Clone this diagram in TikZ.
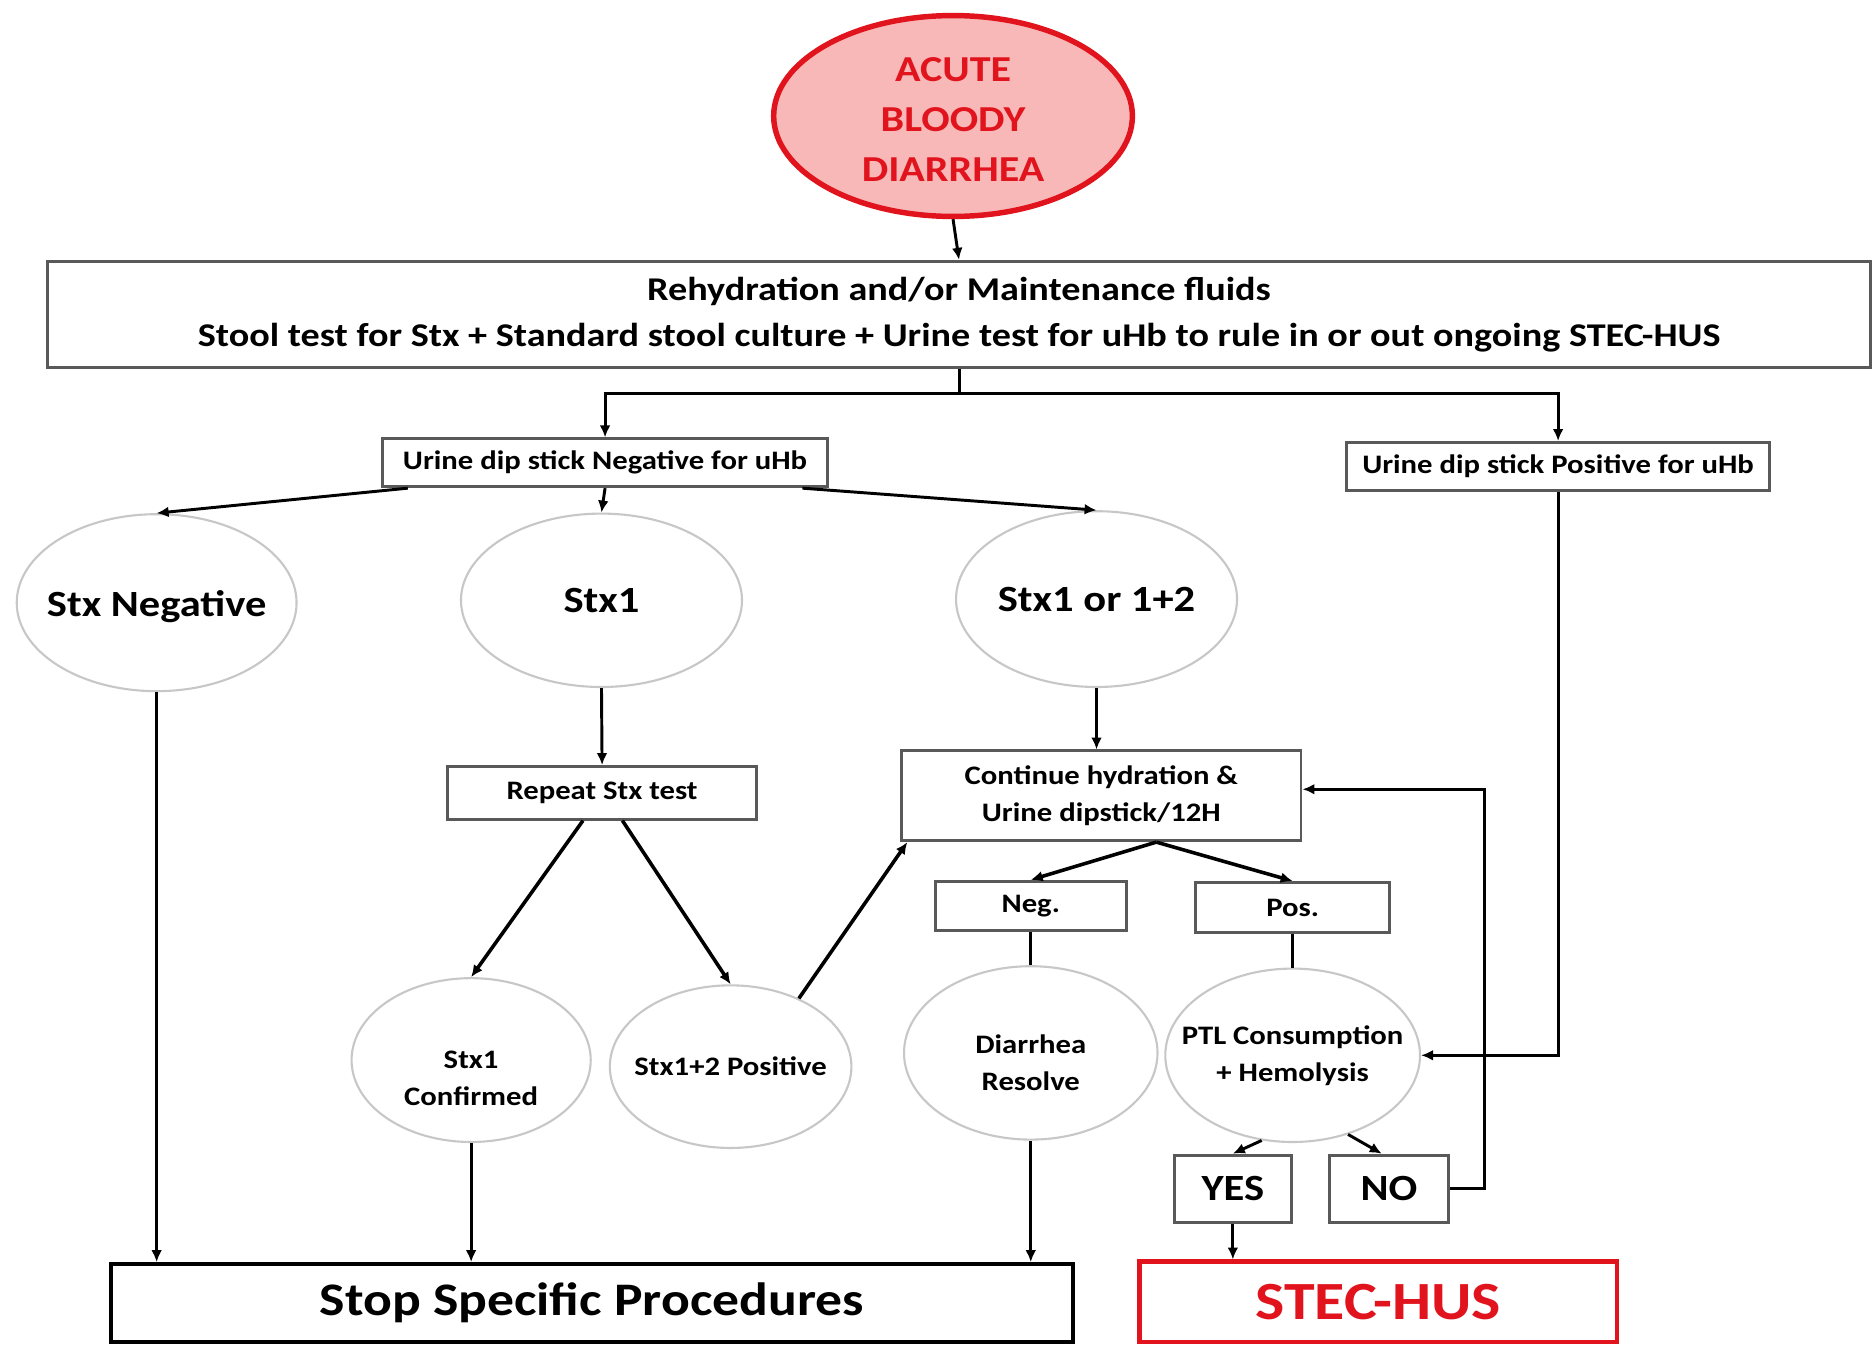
\documentclass[tikz,border=0pt]{standalone}
\usepackage{fontspec}
\setmainfont{Carlito}[FakeStretch=1.15]
\usetikzlibrary{shapes.geometric, arrows.meta}

\definecolor{alarmred}{RGB}{225,20,30}
\definecolor{alarmpink}{RGB}{248,184,184}

\begin{document}
\begin{tikzpicture}[x=0.1mm, y=-0.1mm,
    every node/.style={font=\bfseries},
    box/.style={draw=black!65, line width=0.7pt, inner sep=0pt, align=center},
    oval/.style={ellipse, draw=black!22, line width=0.5pt, inner sep=0pt},
    small/.style={font=\bfseries\fontsize{6.35}{8.8}\selectfont, align=center},
    mid/.style={font=\bfseries\fontsize{8.8}{10}\selectfont, align=center},
    arr/.style={-{Latex[length=1mm,width=0.9mm]}, line width=0.7pt},
    line/.style={line width=0.7pt}]
    % image from (0,0) to (1568,1124), y going down

    \clip (0,0) rectangle (1568,1124);
    \fill[white] (0,0) rectangle (1568,1124);

    % Start
    \node[ellipse, draw=alarmred, fill=alarmpink, line width=1.3pt, minimum width=30mm, minimum height=16.8mm, inner sep=0pt,
          label={[font=\bfseries\fontsize{8.7}{11.8}\selectfont, text=alarmred, align=center, yshift=-0.3mm]center:ACUTE\\BLOODY\\DIARRHEA}] (acute) at (797,97) {};
    \node[box, minimum width=152.5mm, minimum height=8.9mm, font=\bfseries\fontsize{7.9}{10.8}\selectfont] (rehyd) at (802,263)
        {Rehydration and/or Maintenance fluids\\Stool test for Stx + Standard stool culture + Urine test for uHb to rule in or out ongoing STEC-HUS};

    % Urine dip stick
    \node[box, small, minimum width=37.2mm, minimum height=4mm] (neguhb) at (506,387) {Urine dip stick Negative for uHb};
    \node[box, small, minimum width=35.4mm, minimum height=4mm] (posuhb) at (1303,390) {Urine dip stick Positive for uHb};

    % Stx results
    \node[oval, minimum width=23.4mm, minimum height=14.8mm, label={[mid, yshift=-0.3mm]center:Stx Negative}] (stxneg) at (131,504) {};
    \node[oval, minimum width=23.5mm, minimum height=14.5mm, label={[mid]center:Stx1}] (stx1) at (503,502) {};
    \node[oval, minimum width=23.5mm, minimum height=14.7mm, label={[mid]center:Stx1 or 1+2}] (stx12) at (917,501) {};

    % Stx1 branch
    \node[box, small, minimum width=25.9mm, minimum height=4.4mm] (repeat) at (503.5,663) {Repeat Stx test};
    \node[oval, minimum width=20mm, minimum height=13.7mm, label={[small, yshift=-1.5mm]center:Stx1\\Confirmed}] (confirmed) at (394,886.5) {};
    \node[oval, minimum width=20.2mm, minimum height=13.6mm, label={[small]center:Stx1+2 Positive}] (positive) at (611,892) {};

    % Stx1 or 1+2 branch
    \node[box, small, minimum width=33.4mm, minimum height=7.5mm] (continue) at (921,665.5) {Continue hydration \&\\Urine dipstick/12H};
    \node[box, small, minimum width=16mm, minimum height=4.1mm] (neg) at (862,757.5) {Neg.};
    \node[box, small, minimum width=16.2mm, minimum height=4.2mm] (pos) at (1081,759) {Pos.};
    \node[oval, minimum width=21.2mm, minimum height=14.5mm, label={[small, yshift=-0.8mm]center:Diarrhea\\Resolve}] (diarrhea) at (862,880.5) {};
    \node[oval, minimum width=21.3mm, minimum height=14.5mm, label={[small]center:PTL Consumption\\+ Hemolysis}] (ptl) at (1081,882.5) {};
    \node[box, mid, minimum width=9.8mm, minimum height=5.6mm] (yes) at (1031,994) {YES};
    \node[box, mid, minimum width=9.9mm, minimum height=5.6mm] (no) at (1161.5,994) {NO};

    % End boxes
    \node[draw=black, line width=0.9pt, minimum width=80.4mm, minimum height=6.5mm, font=\bfseries\fontsize{11.1}{12}\selectfont] (stop) at (495,1089.5) {\raisebox{-0.3mm}{Stop Specific Procedures}};
    \node[draw=alarmred, line width=1pt, minimum width=39.9mm, minimum height=6.7mm, text=alarmred, font=\bfseries\fontsize{12.8}{14}\selectfont] (stec) at (1152.5,1088.5) {\raisebox{-0.3mm}{STEC-HUS}};

    % Connectors
    \draw[arr] (acute.south) -- (rehyd.north);
    \draw[line] (rehyd.south) -- ++(0,20) coordinate (split);
    \draw[arr] (split) -| (neguhb.north);
    \draw[arr] (split) -| (posuhb.north);

    \draw[arr] ([xshift=-16.5mm]neguhb.south) -- (stxneg.north);
    \draw[arr] (neguhb.south) -- (stx1.north);
    \draw[arr] ([xshift=16.5mm]neguhb.south) -- (stx12.north);

    \draw[arr] (stxneg.south) -- (stxneg.south |- stop.north);
    \draw[arr] (stx1.south) -- (repeat.north);
    \draw[arr, line width=0.85pt] ([xshift=-1.6mm]repeat.south) -- (confirmed.north);
    \draw[arr, line width=0.85pt] ([xshift=1.7mm]repeat.south) -- (positive.north);
    \draw[arr] (confirmed.south) -- (confirmed.south |- stop.north);
    \draw[arr, line width=0.85pt] (positive.45) -- ([xshift=0.6mm]continue.south west);

    \draw[arr] (stx12.south) -- (stx12.south |- continue.north);
    \draw[arr, line width=0.85pt] ([xshift=4.6mm]continue.south) -- (neg.north);
    \draw[arr, line width=0.85pt] ([xshift=4.6mm]continue.south) -- (pos.north);
    \draw[line] (neg.south) -- (diarrhea.north);
    \draw[line] (pos.south) -- (ptl.north);
    \draw[arr] (diarrhea.south) -- (diarrhea.south |- stop.north);
    \draw[arr] (ptl.250) -- (yes.north);
    \draw[arr] (ptl.305) -- ([xshift=-0.6mm]no.north);
    \draw[arr] (yes.south) -- (yes.south |- stec.north);
    \draw[arr] (no.east) -- ++(29,0) |- ([yshift=0.55mm]continue.east); % back to hydration
    \draw[arr] (posuhb.south) |- (ptl.east);
\end{tikzpicture}
\end{document}
